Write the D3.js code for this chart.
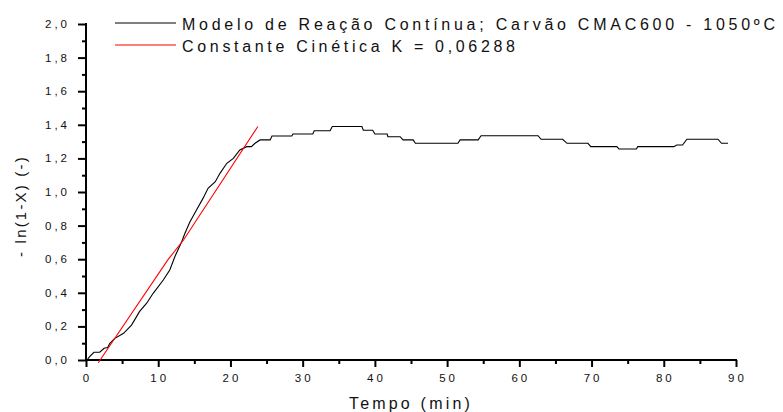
<!DOCTYPE html>
<html>
<head>
<meta charset="utf-8">
<script src="https://cdn.jsdelivr.net/npm/d3@7"></script>
<style>
  html, body { margin: 0; padding: 0; background: #fff; }
  svg { display: block; font-family: "Liberation Sans", Arial, sans-serif; }
</style>
</head>
<body>
<svg id="chart" width="783" height="412"></svg>
<script>
// Conversion curve: time (min) and -ln(1-X)
const timeMin = [0.15, 0.5, 1.1, 1.9, 2.5, 3.0, 3.3, 4.0, 5.2, 6.3,
  7.0, 7.4, 8.4, 9.3, 10.7, 11.6, 12.3, 13.25, 13.7, 14.4,
  15.3, 16.2, 16.9, 17.9, 18.55, 19.5, 20.4, 21.3, 22.25, 22.9,
  23.4, 24.1, 25.5, 25.75, 28.5, 28.65, 31.4, 31.6, 33.8, 34.1,
  38.2, 38.4, 39.7, 40.0, 41.7, 41.8, 43.5, 43.9, 45.3, 45.6,
  51.5, 51.8, 54.3, 54.7, 62.6, 63.0, 66.0, 66.6, 69.5, 69.9,
  73.5, 73.8, 76.2, 76.4, 81.4, 81.8, 82.6, 83.2, 87.5, 88.0,
  88.9];
const lnValues = [0.0, 0.02, 0.046, 0.046, 0.07, 0.074, 0.099, 0.129, 0.159, 0.208,
  0.258, 0.288, 0.338, 0.397, 0.476, 0.536, 0.615, 0.704, 0.754, 0.823,
  0.893, 0.962, 1.022, 1.061, 1.111, 1.171, 1.2, 1.25, 1.27, 1.27,
  1.29, 1.31, 1.31, 1.333, 1.333, 1.345, 1.345, 1.365, 1.365, 1.39,
  1.39, 1.368, 1.368, 1.345, 1.345, 1.329, 1.329, 1.31, 1.31, 1.29,
  1.29, 1.31, 1.31, 1.335, 1.335, 1.314, 1.314, 1.29, 1.29, 1.27,
  1.27, 1.256, 1.256, 1.27, 1.27, 1.28, 1.28, 1.314, 1.314, 1.29,
  1.29];

// Kinetic constant fit line
const fitTime = [1.7, 11.4, 13.5, 23.8];
const fitValues = [-0.016, 0.6, 0.714, 1.39];

const xTicks = [0, 10, 20, 30, 40, 50, 60, 70, 80, 90];
const yTicks = [0, 0.2, 0.4, 0.6, 0.8, 1.0, 1.2, 1.4, 1.6, 1.8, 2.0];

const legendLabels = [
  "Modelo de Reação Contínua; Carvão CMAC600 - 1050ºC",
  "Constante Cinética K = 0,06288"
];
const xTitle = "Tempo (min)";
const yTitle = "- ln(1-X)  (-)";

const svg = d3.select("#chart");
const plotLeft = 86, plotRight = 736, plotTop = 24, plotBottom = 360;

const x = d3.scaleLinear().domain([0, 90]).range([plotLeft, plotRight]);
const y = d3.scaleLinear().domain([0, 2.0]).range([plotBottom, plotTop]);

const fmtY = v => d3.format(".1f")(v).replace(".", ",");

// X axis
const xAxis = svg.append("g").attr("transform", `translate(0,${plotBottom})`);
xAxis.call(d3.axisBottom(x).tickValues(d3.range(5, 90, 10)).tickSize(4).tickFormat(""));
xAxis.call(g => g.append("g").call(d3.axisBottom(x).tickValues(xTicks).tickSize(7).tickFormat("")));
xAxis.selectAll(".domain").remove();
xAxis.selectAll("line").attr("stroke", "#000").attr("stroke-width", 2);
svg.append("line").attr("x1", plotLeft - 1).attr("x2", plotRight + 1)
  .attr("y1", plotBottom).attr("y2", plotBottom)
  .attr("stroke", "#000").attr("stroke-width", 2);
svg.append("g").selectAll("text").data(xTicks).join("text")
  .attr("x", d => x(d) + 1.5).attr("y", 381.5)
  .attr("text-anchor", "middle")
  .attr("font-size", 11.5).attr("letter-spacing", 3).attr("fill", "#111")
  .text(d => d);

// Y axis
const yAxis = svg.append("g").attr("transform", `translate(${plotLeft},0)`);
yAxis.call(d3.axisLeft(y).tickValues(d3.range(0.1, 2.0, 0.2)).tickSize(4).tickFormat(""));
yAxis.call(g => g.append("g").call(d3.axisLeft(y).tickValues(yTicks).tickSize(8).tickFormat("")));
yAxis.selectAll(".domain").remove();
yAxis.selectAll("line").attr("stroke", "#000").attr("stroke-width", 2);
svg.append("line").attr("x1", plotLeft).attr("x2", plotLeft)
  .attr("y1", plotTop - 1).attr("y2", plotBottom + 1)
  .attr("stroke", "#000").attr("stroke-width", 2);
svg.append("g").selectAll("text").data(yTicks).join("text")
  .attr("x", 70).attr("y", d => y(d) + 4)
  .attr("text-anchor", "end")
  .attr("font-size", 11.5).attr("letter-spacing", 3).attr("fill", "#111")
  .text(fmtY);

// Axis titles
svg.append("text").attr("x", 411).attr("y", 409)
  .attr("text-anchor", "middle").attr("font-size", 16).attr("letter-spacing", 3.2).attr("fill", "#111")
  .text(xTitle);
svg.append("text").attr("transform", "translate(26,206) rotate(-90)")
  .attr("text-anchor", "middle").attr("font-size", 15).attr("letter-spacing", 2.2).attr("fill", "#111")
  .text(yTitle);

// Data curves
const curve = timeMin.map((t, i) => [t, lnValues[i]]);
const fit = fitTime.map((t, i) => [t, fitValues[i]]);
const line = d3.line().x(d => x(d[0])).y(d => y(d[1]));

svg.append("path").datum(curve).attr("d", line)
  .attr("fill", "none").attr("stroke", "#000").attr("stroke-width", 1.1);
svg.append("path").datum(fit).attr("d", line)
  .attr("fill", "none").attr("stroke", "#ff0000").attr("stroke-width", 1.1);

// Legend
const legendColors = ["#000", "#ff0000"];
const legendWidths = [593, 333];
const legend = svg.append("g");
legendLabels.forEach((label, i) => {
  const ly = 23 + i * 22;
  legend.append("line").attr("x1", 115).attr("x2", 176).attr("y1", ly).attr("y2", ly)
    .attr("stroke", legendColors[i]).attr("stroke-width", 1.1);
  legend.append("text").attr("x", 182).attr("y", ly + 7)
    .attr("font-size", 16).attr("fill", "#111")
    .attr("textLength", legendWidths[i]).attr("lengthAdjust", "spacing")
    .text(label);
});
</script>
</body>
</html>
